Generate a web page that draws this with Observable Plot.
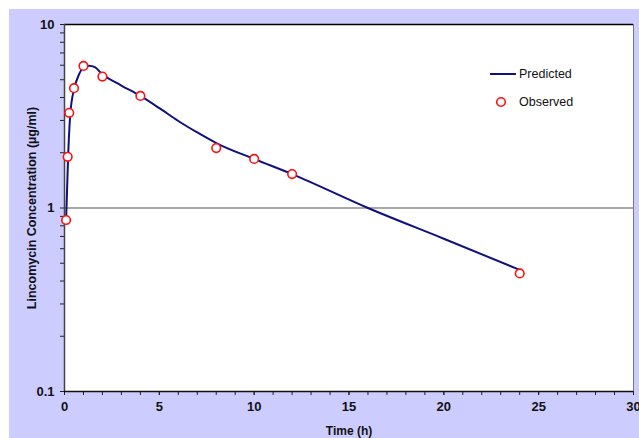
<!DOCTYPE html>
<html>
<head>
<meta charset="utf-8">
<script src="https://cdn.jsdelivr.net/npm/d3@7"></script>
<script src="https://cdn.jsdelivr.net/npm/@observablehq/plot@0.6"></script>
<style>
  html, body { margin: 0; padding: 0; background: #ffffff; }
  #wrap { position: absolute; left: 9px; top: 9px; width: 630px; height: 429px; background: #ccccff; overflow: hidden; }
  #legend { position: absolute; left: 0; top: 0; width: 630px; height: 429px; pointer-events: none; }
</style>
</head>
<body>
<div id="wrap"></div>
<script>
// Observed concentrations (µg/ml) vs time (h)
const obsTime = [0.083, 0.167, 0.25, 0.5, 1, 2, 4, 8, 10, 12, 24];
const obsConc = [0.86, 1.9, 3.3, 4.5, 5.95, 5.2, 4.08, 2.12, 1.85, 1.53, 0.44];

// Predicted curve
const predTime = [0.083, 0.19, 0.31, 0.52, 0.75, 1, 1.3, 1.6, 2, 3, 4, 5, 6, 7, 8, 10, 12, 16, 20, 24];
const predConc = [0.85, 1.9, 3.3, 4.5, 5.3, 5.83, 5.96, 5.85, 5.35, 4.65, 4.08, 3.5, 2.98, 2.58, 2.26, 1.85, 1.53, 1.0, 0.68, 0.46];

const yMajor = [0.1, 1, 10];
const yMinor = [0.2,0.3,0.4,0.5,0.6,0.7,0.8,0.9,2,3,4,5,6,7,8,9];
const xMinor = d3.range(0, 31, 1);
const xMajor = [0, 5, 10, 15, 20, 25, 30];

const observed = obsTime.map((t, i) => ({t, c: obsConc[i]}));
const predicted = predTime.map((t, i) => ({t, c: predConc[i]}));

const font = '"Liberation Sans Narrow", "Arial Narrow", "Liberation Sans", Arial, sans-serif';

const chart = Plot.plot({
  width: 630,
  height: 429,
  marginLeft: 55,
  marginRight: 6,
  marginTop: 15,
  marginBottom: 47,
  style: { background: "transparent", fontFamily: font, overflow: "visible" },
  x: { domain: [0, 30] },
  y: { type: "log", domain: [0.1, 10] },
  marks: [
    Plot.frame({ fill: "white", stroke: null }),
    Plot.ruleY([1], { stroke: "#8c8c8c", strokeWidth: 1.5 }),
    Plot.ruleY([10], { stroke: "#000", strokeWidth: 1.5 }),
    Plot.ruleX([30], { stroke: "#777", strokeWidth: 1 }),
    Plot.axisY({ ticks: yMinor, tickSize: 4, tickFormat: () => "", label: null, stroke: "#222" }),
    Plot.axisY({ ticks: yMajor, tickSize: 4, tickPadding: 6, fontSize: 13, fontWeight: "bold", tickFormat: d => d === 0.1 ? "0.1" : String(d), label: null, stroke: "#222", fill: "#111" }),
    Plot.axisX({ ticks: xMinor, tickSize: 4, tickFormat: () => "", label: null, stroke: "#222" }),
    Plot.axisX({ ticks: xMajor, tickSize: 4, tickPadding: 6, fontSize: 13, fontWeight: "bold", tickFormat: d => String(d), label: null, stroke: "#222", fill: "#111" }),
    Plot.ruleX([0], { stroke: "#444", strokeWidth: 1.5 }),
    Plot.ruleY([0.1], { stroke: "#111", strokeWidth: 1.5 }),
    Plot.line(predicted, { x: "t", y: "c", stroke: "#101080", strokeWidth: 2, curve: "monotone-x" }),
    Plot.dot(observed, { x: "t", y: "c", r: 4.3, fill: "white", stroke: "#ff1010", strokeWidth: 1.6 }),
    Plot.text(["Time (h)"], { frameAnchor: "bottom", dy: 40, fontSize: 12, fontWeight: "bold", fill: "#111", lineAnchor: "middle" }),
    Plot.text(["Lincomycin Concentration (µg/ml)"], { frameAnchor: "left", dx: -33, rotate: -90, fontSize: 12.5, fontWeight: "bold", fill: "#111", textAnchor: "middle", lineAnchor: "middle", style: "letter-spacing:0.9px" })
  ]
});
const wrap = document.getElementById("wrap");
wrap.appendChild(chart);

// Legend
const ns = "http://www.w3.org/2000/svg";
const leg = document.createElementNS(ns, "svg");
leg.setAttribute("id", "legend");
leg.setAttribute("width", 630);
leg.setAttribute("height", 429);
leg.innerHTML = `
  <line x1="481" y1="65" x2="507" y2="65" stroke="#101080" stroke-width="2"/>
  <text x="510" y="65" dominant-baseline="central" font-size="12.5" font-family='Liberation Sans, Arial, sans-serif' fill="#111">Predicted</text>
  <circle cx="492" cy="93" r="4.3" fill="white" stroke="#ff1010" stroke-width="1.6"/>
  <text x="510" y="93" dominant-baseline="central" font-size="12.5" font-family='Liberation Sans, Arial, sans-serif' fill="#111">Observed</text>
`;
wrap.appendChild(leg);
</script>
</body>
</html>
